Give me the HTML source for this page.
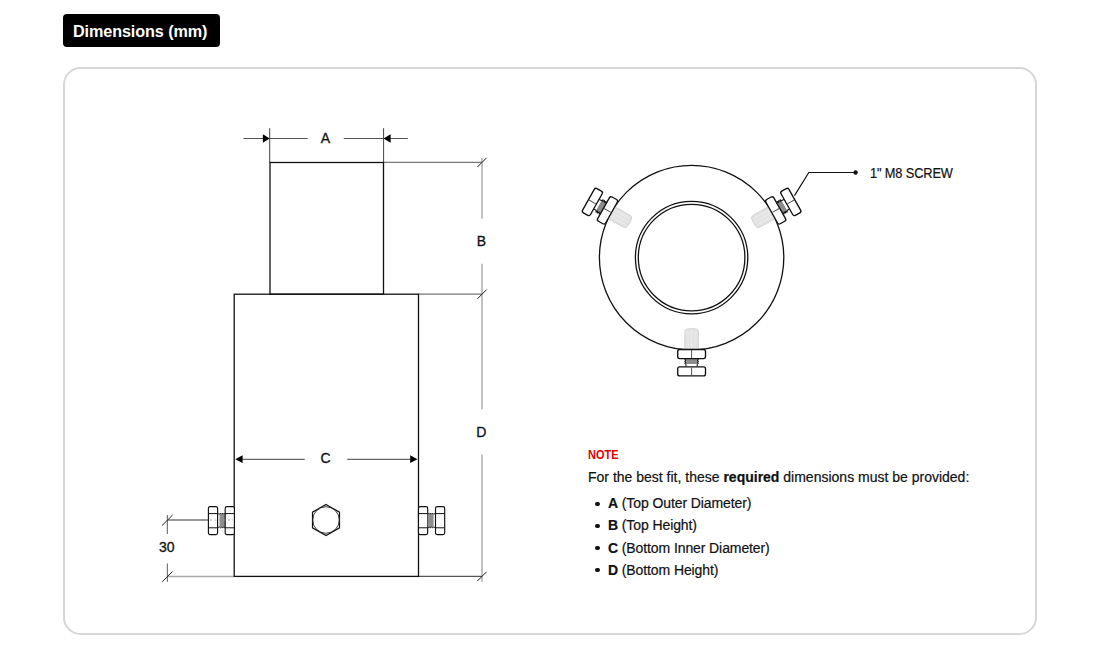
<!DOCTYPE html>
<html>
<head>
<meta charset="utf-8">
<style>
html,body{margin:0;padding:0;background:#fff;}
body{width:1100px;height:660px;position:relative;overflow:hidden;font-family:"Liberation Sans",sans-serif;color:#111;}
.tag{position:absolute;left:63px;top:13.5px;width:157px;height:33px;background:#000;border-radius:4px;}
.t.tagt{-webkit-text-stroke:0;position:absolute;left:73px;top:14.7px;height:33px;line-height:33px;color:#fff;font-weight:bold;font-size:16.2px;letter-spacing:-0.1px;white-space:nowrap;}
.card{position:absolute;left:63px;top:67px;width:974px;height:568px;box-sizing:border-box;border:2px solid #d7d7d7;border-radius:17.5px;}
svg.d{position:absolute;left:0;top:0;}
.t{position:absolute;white-space:nowrap;color:#111;-webkit-text-stroke:0.2px #111;}
.t.nh{left:587.8px;top:448.4px;line-height:14px;font-size:12.4px;transform:scaleX(0.885);transform-origin:0 0;font-weight:bold;color:#e00000;-webkit-text-stroke:0;}
.np{left:588px;top:466.6px;line-height:20px;font-size:14px;letter-spacing:0px;}
.li{left:608px;line-height:22px;font-size:14px;letter-spacing:-0.1px;}
.bul{position:absolute;left:595.3px;width:4.6px;height:4.6px;border-radius:2.3px;background:#111;}
.lbl{font-family:"Liberation Sans",sans-serif;font-size:14px;fill:#111;stroke:#111;stroke-width:0.3;}
.scr{left:869.5px;top:162.5px;line-height:20px;font-size:14px;letter-spacing:-0.15px;transform:scaleX(0.915);transform-origin:0 0;}
</style>
</head>
<body>
<div class="tag"></div>
<div class="t tagt">Dimensions (mm)</div>
<div class="card"></div>
<svg class="d" width="1100" height="660" viewBox="0 0 1100 660">
  <defs>
    <g id="screw">
      <path d="M-6.8,91.5 L-6.8,74.5 Q-6.8,71.8 -4.5,71.4 Q0,70.6 4.5,71.4 Q6.8,71.8 6.8,74.5 L6.8,91.5 Z" fill="#e3e3e3" stroke="#cdcdcd" stroke-width="0.8"/>
      <path d="M-3.5,74 L-3.5,91 M0,73 L0,91 M3.5,74 L3.5,91" stroke="#eeeeee" stroke-width="0.8" fill="none"/>
      <polygon points="-5.60,101.30 -7.00,102.17 -5.60,103.03 -7.00,103.90 -5.60,104.77 -7.00,105.63 -5.60,106.50 -5.6,106.5 5.6,106.5 5.60,106.50 7.00,105.63 5.60,104.77 7.00,103.90 5.60,103.03 7.00,102.17 5.60,101.30" fill="#8c8c8c"/>
      <rect x="-5.6" y="106.5" width="11.2" height="2.8" fill="#fff"/>
      <polyline points="-5.60,101.30 -7.00,102.17 -5.60,103.03 -7.00,103.90 -5.60,104.77 -7.00,105.63 -5.60,106.50 -5.6,109.2" fill="none" stroke="#111" stroke-width="1"/>
      <polyline points="5.60,101.30 7.00,102.17 5.60,103.03 7.00,103.90 5.60,104.77 7.00,105.63 5.60,106.50 5.6,109.2" fill="none" stroke="#111" stroke-width="1"/>
      <rect x="-13.9" y="91.9" width="27.8" height="9.1" rx="2" fill="#fff" stroke="#111" stroke-width="1.35"/>
      <line x1="0" y1="92.5" x2="0" y2="100.4" stroke="#555" stroke-width="1"/>
      <rect x="-13.9" y="109.2" width="27.8" height="9.1" rx="2" fill="#fff" stroke="#111" stroke-width="1.35"/>
      <line x1="0" y1="109.8" x2="0" y2="117.7" stroke="#555" stroke-width="1"/>
    </g>
    <g id="sidenut">
      <rect x="0" y="-13.8" width="9.2" height="28" rx="1.8" fill="#fff" stroke="#111" stroke-width="1.15"/>
      <line x1="0" y1="-6.8" x2="9.2" y2="-6.8" stroke="#111" stroke-width="1"/>
      <line x1="0" y1="7.4" x2="9.2" y2="7.4" stroke="#111" stroke-width="1"/>
    </g>
    <g id="sidethread">
      <polygon points="0,-6.6 0.40,-6.30 1.30,-7.20 2.20,-6.30 3.10,-7.20 4.00,-6.30 4.90,-7.20 5.80,-6.30 6.0,-6.6 6.0,6.9 5.80,6.60 4.90,7.50 4.00,6.60 3.10,7.50 2.20,6.60 1.30,7.50 0.40,6.60 0,6.9" fill="#8e8e8e"/>
      <polyline points="0.40,-6.30 1.30,-7.20 2.20,-6.30 3.10,-7.20 4.00,-6.30 4.90,-7.20 5.80,-6.30 6.2,-6.6 8,-6.6" fill="none" stroke="#111" stroke-width="0.9"/>
      <polyline points="0.40,6.60 1.30,7.50 2.20,6.60 3.10,7.50 4.00,6.60 4.90,7.50 5.80,6.60 6.2,6.9 8,6.9" fill="none" stroke="#111" stroke-width="0.9"/>
    </g>
  </defs>

  <!-- elevation drawing -->
  <g fill="none" stroke-linecap="butt">
    <!-- A dimension -->
    <line x1="269.7" y1="128.2" x2="269.7" y2="162.5" stroke="#444" stroke-width="1"/>
    <line x1="383.6" y1="128.2" x2="383.6" y2="162.5" stroke="#444" stroke-width="1"/>
    <line x1="243.5" y1="138.5" x2="307.7" y2="138.5" stroke="#555" stroke-width="1"/>
    <line x1="343.8" y1="138.5" x2="407.8" y2="138.5" stroke="#555" stroke-width="1"/>
    <path d="M269.7,138.5 L262.9,134.3 L262.9,142.7 Z" fill="#000" stroke="none"/>
    <path d="M383.6,138.5 L390.6,134.3 L390.6,142.7 Z" fill="#000" stroke="none"/>

    <!-- B/D dimension vertical -->
    <line x1="482" y1="157.7" x2="482" y2="218.8" stroke="#bbb" stroke-width="1.8"/>
    <line x1="482" y1="263.8" x2="482" y2="409.2" stroke="#bbb" stroke-width="1.8"/>
    <line x1="482" y1="454.6" x2="482" y2="581.7" stroke="#bbb" stroke-width="1.8"/>
    <line x1="383.5" y1="162.4" x2="482" y2="162.4" stroke="#777" stroke-width="1.3"/>
    <line x1="418.5" y1="294.2" x2="482" y2="294.2" stroke="#777" stroke-width="1.3"/>
    <line x1="418.5" y1="576.4" x2="482" y2="576.4" stroke="#555" stroke-width="1.3"/>
    <line x1="477.4" y1="167" x2="486.6" y2="157.8" stroke="#222" stroke-width="1"/>
    <line x1="477.4" y1="298.8" x2="486.6" y2="289.6" stroke="#222" stroke-width="1"/>
    <line x1="477.4" y1="581" x2="486.6" y2="571.8" stroke="#222" stroke-width="1"/>

    <!-- C dimension -->
    <line x1="240" y1="459.3" x2="304.7" y2="459.3" stroke="#666" stroke-width="1.3"/>
    <line x1="347.3" y1="459.3" x2="412" y2="459.3" stroke="#666" stroke-width="1.3"/>
    <path d="M235.3,459.3 L242.6,455.3 L242.6,463.1 Z" fill="#000" stroke="none"/>
    <path d="M417.5,459.3 L410.2,455.3 L410.2,463.1 Z" fill="#000" stroke="none"/>

    <!-- 30 dimension -->
    <line x1="167.4" y1="515" x2="167.4" y2="534" stroke="#777" stroke-width="1.2"/>
    <line x1="167.4" y1="563.5" x2="167.4" y2="581.7" stroke="#777" stroke-width="1.2"/>
    <line x1="167.4" y1="520" x2="208.3" y2="520" stroke="#777" stroke-width="1.3"/>
    <line x1="167.4" y1="576.4" x2="234.2" y2="576.4" stroke="#aaa" stroke-width="1.5"/>
    <line x1="162.2" y1="525.4" x2="172.6" y2="515" stroke="#222" stroke-width="1"/>
    <line x1="162.2" y1="581.8" x2="172.6" y2="571.4" stroke="#222" stroke-width="1"/>

    <!-- bodies -->
    <rect x="270" y="162.5" width="113.5" height="131.7" stroke="#111" stroke-width="1.3"/>
    <rect x="234.2" y="294.2" width="184.3" height="282.2" stroke="#111" stroke-width="1.3"/>

    <!-- hex -->
    <path d="M326,504.4 L339.5,512.2 L339.5,527.8 L326,535.6 L312.5,527.8 L312.5,512.2 Z" stroke="#111" stroke-width="1.2"/>
    <circle cx="326" cy="520" r="13.3" stroke="#222" stroke-width="0.9"/>
  </g>

  <!-- side nuts left -->
  <use href="#sidenut" x="208.4" y="520.4"/>
  <use href="#sidethread" transform="translate(225.5,520.4) scale(-1,1)"/>
  <use href="#sidenut" x="225.2" y="520.4"/>
  <line x1="210" y1="520" x2="233" y2="520" stroke="#999" stroke-width="0.8" stroke-dasharray="2,2.5"/>
  <!-- side nuts right -->
  <use href="#sidenut" x="418.5" y="520.4"/>
  <use href="#sidethread" x="427.6" y="520.4"/>
  <use href="#sidenut" x="435.5" y="520.4"/>

  <!-- labels -->
  <text class="lbl" x="325.5" y="143" text-anchor="middle">A</text>
  <text class="lbl" x="481.4" y="246.3" text-anchor="middle">B</text>
  <text class="lbl" x="325.6" y="463.2" text-anchor="middle">C</text>
  <text class="lbl" x="481.2" y="436.7" text-anchor="middle">D</text>
  <text class="lbl" x="166.8" y="552.4" text-anchor="middle">30</text>

  <!-- ring top view -->
  <g transform="translate(691.6,257.6)">
    <circle r="92.2" fill="none" stroke="#111" stroke-width="1.3"/>
    <circle r="56.2" fill="none" stroke="#111" stroke-width="1.3"/>
    <circle r="53.3" fill="none" stroke="#111" stroke-width="1.3"/>
    <use href="#screw"/>
    <use href="#screw" transform="rotate(119.3)"/>
    <use href="#screw" transform="rotate(-119.3)"/>
  </g>
  <!-- leader -->
  <polyline points="794.5,195.6 808.8,172.5 855.6,172.5" fill="none" stroke="#111" stroke-width="1.2"/>
  <circle cx="855.6" cy="172.5" r="2.2" fill="#111"/>
</svg>
<div class="t scr">1" M8 SCREW</div>
<div class="t nh">NOTE</div>
<div class="t np">For the best fit, these <b>required</b> dimensions must be provided:</div>
<div class="bul" style="top:501.5px"></div><div class="t li" style="top:492.35px"><b>A</b> (Top Outer Diameter)</div>
<div class="bul" style="top:523.6px"></div><div class="t li" style="top:514.45px"><b>B</b> (Top Height)</div>
<div class="bul" style="top:545.7px"></div><div class="t li" style="top:536.55px"><b>C</b> (Bottom Inner Diameter)</div>
<div class="bul" style="top:567.8px"></div><div class="t li" style="top:558.65px"><b>D</b> (Bottom Height)</div>
</body>
</html>
